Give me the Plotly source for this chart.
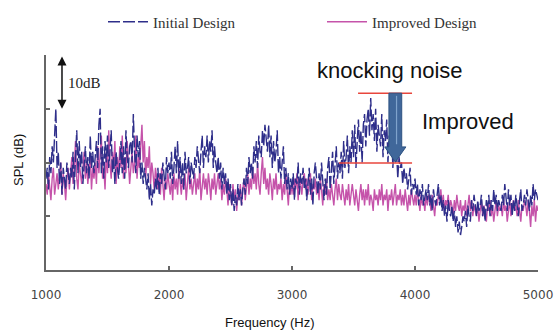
import plotly.graph_objects as go

# ---------------- data ----------------
freq_start = 1000
freq_step = 10
n_points = 401
freq = [freq_start + freq_step * i for i in range(n_points)]

initial_design = [
    17, 19, 15, 21, 18, 23, 20, 27, 30, 19,
    22, 16, 20, 14, 19, 17, 15, 20, 18, 16,
    19, 17, 22, 15, 21, 26, 18, 24, 19, 22,
    16, 20, 23, 18, 21, 17, 25, 19, 22, 18,
    21, 24, 19, 27, 30, 18, 23, 17, 24, 20,
    25, 19, 22, 26, 18, 21, 16, 22, 19, 17,
    20, 24, 18, 23, 17, 26, 21, 19, 23, 24,
    20, 29, 22, 18, 25, 21, 24, 17, 20, 16,
    19, 17, 15, 18, 13, 16, 12, 15, 14, 17,
    15, 19, 14, 18, 16, 20, 17, 15, 21, 18,
    20, 17, 22, 16, 19, 23, 18, 24, 17, 21,
    16, 20, 15, 22, 18, 19, 21, 16, 20, 18,
    17, 21, 19, 23, 20, 18, 22, 25, 19, 23,
    21, 25, 20, 24, 22, 26, 19, 23, 20, 18,
    21, 17, 20, 15, 19, 16, 18, 14, 17, 13,
    16, 12, 15, 11, 14, 12, 16, 13, 15, 12,
    15, 17, 14, 19, 16, 21, 18, 20, 17, 23,
    20, 24, 19, 25, 22, 21, 26, 23, 27, 24,
    22, 27, 21, 25, 19, 24, 20, 22, 26, 18,
    21, 17, 20, 23, 16, 19, 15, 18, 14, 17,
    15, 18, 13, 17, 16, 20, 14, 18, 16, 19,
    15, 17, 13, 16, 19, 14, 17, 12, 18, 20,
    16, 14, 18, 15, 20, 16, 13, 17, 14, 19,
    21, 15, 18, 22, 16, 19, 23, 17, 20, 18,
    22, 17, 24, 19, 21, 25, 18, 23, 20, 26,
    21, 27, 19, 24, 28, 22, 26, 20, 27, 29,
    23, 28, 30, 25, 32, 26, 29, 24, 30, 22,
    27, 25, 23, 29, 21, 26, 24, 28, 20, 25,
    22, 26, 19, 24, 20, 22, 17, 21, 19, 20,
    16, 19, 17, 18, 15, 17, 19, 14, 16, 15,
    17, 14, 16, 12, 15, 13, 16, 12, 14, 15,
    13, 16, 12, 14, 11, 15, 13, 12, 14, 16,
    12, 14, 11, 13, 10, 12, 9, 13, 11, 10,
    12, 9, 11, 8, 10, 7, 9, 6.5, 8, 10,
    9, 11, 8, 12, 10, 9, 13, 11, 14, 12,
    10, 13, 11, 12, 14, 10, 12, 9, 13, 11,
    14, 10, 13, 11, 15, 12, 14, 11, 13, 12,
    11, 14, 12, 16, 13, 11, 15, 12, 14, 10,
    13, 11, 14, 12, 10, 13, 15, 11, 12, 14,
    12, 15, 13, 11, 14, 12, 16, 13, 15, 14,
    13,
]

improved_design = [
    16, 14, 18, 15, 13, 17, 19, 14, 16, 18,
    15, 17, 20, 14, 18, 16, 13, 17, 19, 15,
    18, 21, 16, 19, 24, 17, 15, 20, 18, 16,
    19, 22, 17, 20, 16, 18, 21, 15, 19, 17,
    20, 16, 23, 18, 21, 25, 17, 19, 15, 22,
    18, 26, 20, 17, 22, 19, 24, 16, 21, 18,
    23, 19, 25, 17, 21, 18, 24, 20, 16, 19,
    22, 18, 20, 25, 17, 21, 19, 23, 27, 20,
    24, 17, 21, 19, 23, 16, 20, 18, 15, 19,
    17, 15, 18, 14, 19, 16, 13, 17, 15, 18,
    16, 14, 17, 13, 18, 15, 17, 14, 19, 16,
    14, 17, 15, 18, 13, 16, 19, 15, 17, 14,
    16, 18, 14, 17, 15, 19, 13, 16, 18, 15,
    17, 14, 18, 16, 13, 17, 15, 18, 14, 16,
    18, 15, 17, 13, 16, 14, 17, 15, 12, 16,
    14, 12, 16, 13, 15, 11, 14, 13, 16, 12,
    15, 17, 13, 16, 18, 14, 17, 15, 19, 16,
    18, 15, 20, 16, 14, 18, 21, 16, 19, 15,
    17, 14, 18, 16, 13, 17, 15, 18, 14, 16,
    15, 17, 13, 16, 14, 18, 15, 12, 16, 14,
    16, 14, 17, 15, 18, 13, 17, 16, 14, 17,
    18, 15, 17, 14, 16, 18, 13, 16, 15, 17,
    14, 16, 13, 17, 15, 12, 16, 14, 17, 13,
    15, 13, 16, 14, 12, 15, 17, 13, 16, 14,
    13, 16, 14, 12, 15, 13, 16, 12, 14, 16,
    14, 12, 15, 13, 11, 14, 16, 13, 15, 12,
    15, 13, 16, 12, 14, 13, 11, 15, 13, 14,
    12, 15, 13, 16, 12, 14, 13, 15, 11, 14,
    13, 15, 12, 14, 16, 12, 14, 13, 15, 12,
    14, 12, 15, 13, 11, 14, 12, 15, 13, 12,
    14, 12, 15, 13, 11, 14, 12, 13, 11, 14,
    12, 14, 13, 11, 14, 12, 10, 13, 12, 14,
    13, 15, 12, 14, 11, 13, 12, 14, 11, 13,
    12, 10, 13, 11, 14, 12, 11, 13, 10, 12,
    11, 13, 10, 12, 14, 11, 13, 10, 12, 11,
    10, 12, 9, 11, 13, 10, 12, 11, 9, 12,
    11, 13, 10, 12, 9, 11, 13, 10, 12, 11,
    12, 10, 13, 11, 12, 9, 11, 13, 10, 12,
    13, 11, 12, 10, 13, 11, 9, 12, 11, 13,
    12, 10, 13, 11, 8, 12, 10, 13, 9, 12,
    11,
]

x_ticks = [1000, 2000, 3000, 4000, 5000]
x_tick_labels = ["1000", "2000", "3000", "4000", "5000"]
y_ticks = [0, 10, 20, 30, 40]

# annotation geometry (data units)
knock_top = 32.9
knock_bottom = 19.9
red_top_x = (3537, 3976)
red_bot_x = (3382, 3976)
arrow_x = 3840
arrow_shaft_half = 52
arrow_head_half = 86
arrow_head_top = 22.9
arrow_tip = 20.1

NAVY = "#2e2e8a"
MAGENTA = "#c553aa"

fig = go.Figure()
fig.add_trace(go.Scatter(
    x=freq, y=improved_design, mode="lines", name="Improved Design",
    line=dict(color=MAGENTA, width=1.4), legendrank=2,
))
fig.add_trace(go.Scatter(
    x=freq, y=initial_design, mode="lines", name="Initial Design",
    line=dict(color=NAVY, width=1.4, dash="12px,3px"), legendrank=1,
))

shapes = []
shapes.append(dict(type="line", xref="x", yref="y", x0=red_top_x[0], x1=red_top_x[1],
                   y0=knock_top, y1=knock_top, line=dict(color="#e8463c", width=1.5)))
shapes.append(dict(type="line", xref="x", yref="y", x0=red_bot_x[0], x1=red_bot_x[1],
                   y0=knock_bottom, y1=knock_bottom, line=dict(color="#e8463c", width=1.5)))
ax0, ax1 = arrow_x - arrow_shaft_half, arrow_x + arrow_shaft_half
hx0, hx1 = arrow_x - arrow_head_half, arrow_x + arrow_head_half
path = (f"M {ax0},{knock_top} L {ax1},{knock_top} L {ax1},{arrow_head_top} "
        f"L {hx1},{arrow_head_top} L {arrow_x},{arrow_tip} L {hx0},{arrow_head_top} "
        f"L {ax0},{arrow_head_top} Z")
shapes.append(dict(type="path", xref="x", yref="y", path=path,
                   fillcolor="#40679a", line=dict(color="#2d5282", width=1)))
shapes.append(dict(type="line", xref="x", yref="y", x0=arrow_x + 10, x1=arrow_x + 10,
                   y0=knock_top - 0.5, y1=arrow_head_top + 0.5,
                   line=dict(color="#7fa3cc", width=1.2)))

SANS = "Liberation Sans, Arial"
SERIF = "Liberation Serif, Times New Roman"
annotations = [
    dict(text="knocking noise", x=390, y=70, xanchor="center",
         font=dict(family=SANS, size=22, color="#111")),
    dict(text="Improved", x=468, y=121, xanchor="center",
         font=dict(family=SANS, size=22, color="#111")),
    dict(text="10dB", x=66, y=83, xanchor="left",
         font=dict(family=SERIF, size=15, color="#222")),
    dict(text="SPL (dB)", x=18, y=160, xanchor="center", textangle=-90,
         font=dict(family=SANS, size=13, color="#111")),
    dict(text="Frequency (Hz)", x=270, y=322, xanchor="center",
         font=dict(family=SANS, size=13, color="#111")),
]

L, R, T, B = 46, 18, 55, 62
W, H = 556, 332
pw, ph = W - L - R, H - T - B
for a in annotations:
    px, py = a["x"], a["y"]
    a["x"] = (px - L) / pw
    a["y"] = (H - B - py) / ph
    a["xref"] = "paper"
    a["yref"] = "paper"
    a["yanchor"] = "middle"
    a["showarrow"] = False

annotations.append(dict(x=1130, y=30, ax=1130, ay=40, xref="x", yref="y",
                        axref="x", ayref="y", showarrow=True, text="",
                        arrowhead=2, startarrowhead=2, arrowside="end+start",
                        arrowsize=1.2, arrowwidth=1.5, arrowcolor="#111"))

fig.update_layout(
    width=W, height=H,
    margin=dict(l=L, r=R, t=T, b=B, autoexpand=False),
    plot_bgcolor="white", paper_bgcolor="white",
    showlegend=True,
    legend=dict(orientation="h", x=(103 - L) / pw, xanchor="left",
                y=(H - B - 22) / ph, yanchor="middle",
                font=dict(family=SERIF, size=15, color="#333"),
                entrywidth=164, entrywidthmode="pixels",
                itemwidth=40, tracegroupgap=0, bgcolor="rgba(0,0,0,0)"),
    shapes=shapes, annotations=annotations,
)
fig.update_xaxes(range=[1000, 5000], tickvals=x_ticks, ticktext=x_tick_labels,
                 ticks="inside", ticklen=4, tickcolor="#666", tickwidth=1.5,
                 showline=True, linecolor="#666", linewidth=1.5, showgrid=False,
                 zeroline=False, tickfont=dict(family="DejaVu Sans", size=12, color="#444"),
                 ticklabelstandoff=13)
fig.update_yaxes(range=[0, 40], tickvals=y_ticks, showticklabels=False,
                 ticks="inside", ticklen=4, tickcolor="#666", tickwidth=1.5,
                 showline=True, linecolor="#666", linewidth=1.5, showgrid=False,
                 zeroline=False)

fig.write_html("out.html", config={"displayModeBar": False},
               post_script="document.body.style.margin='0';")
